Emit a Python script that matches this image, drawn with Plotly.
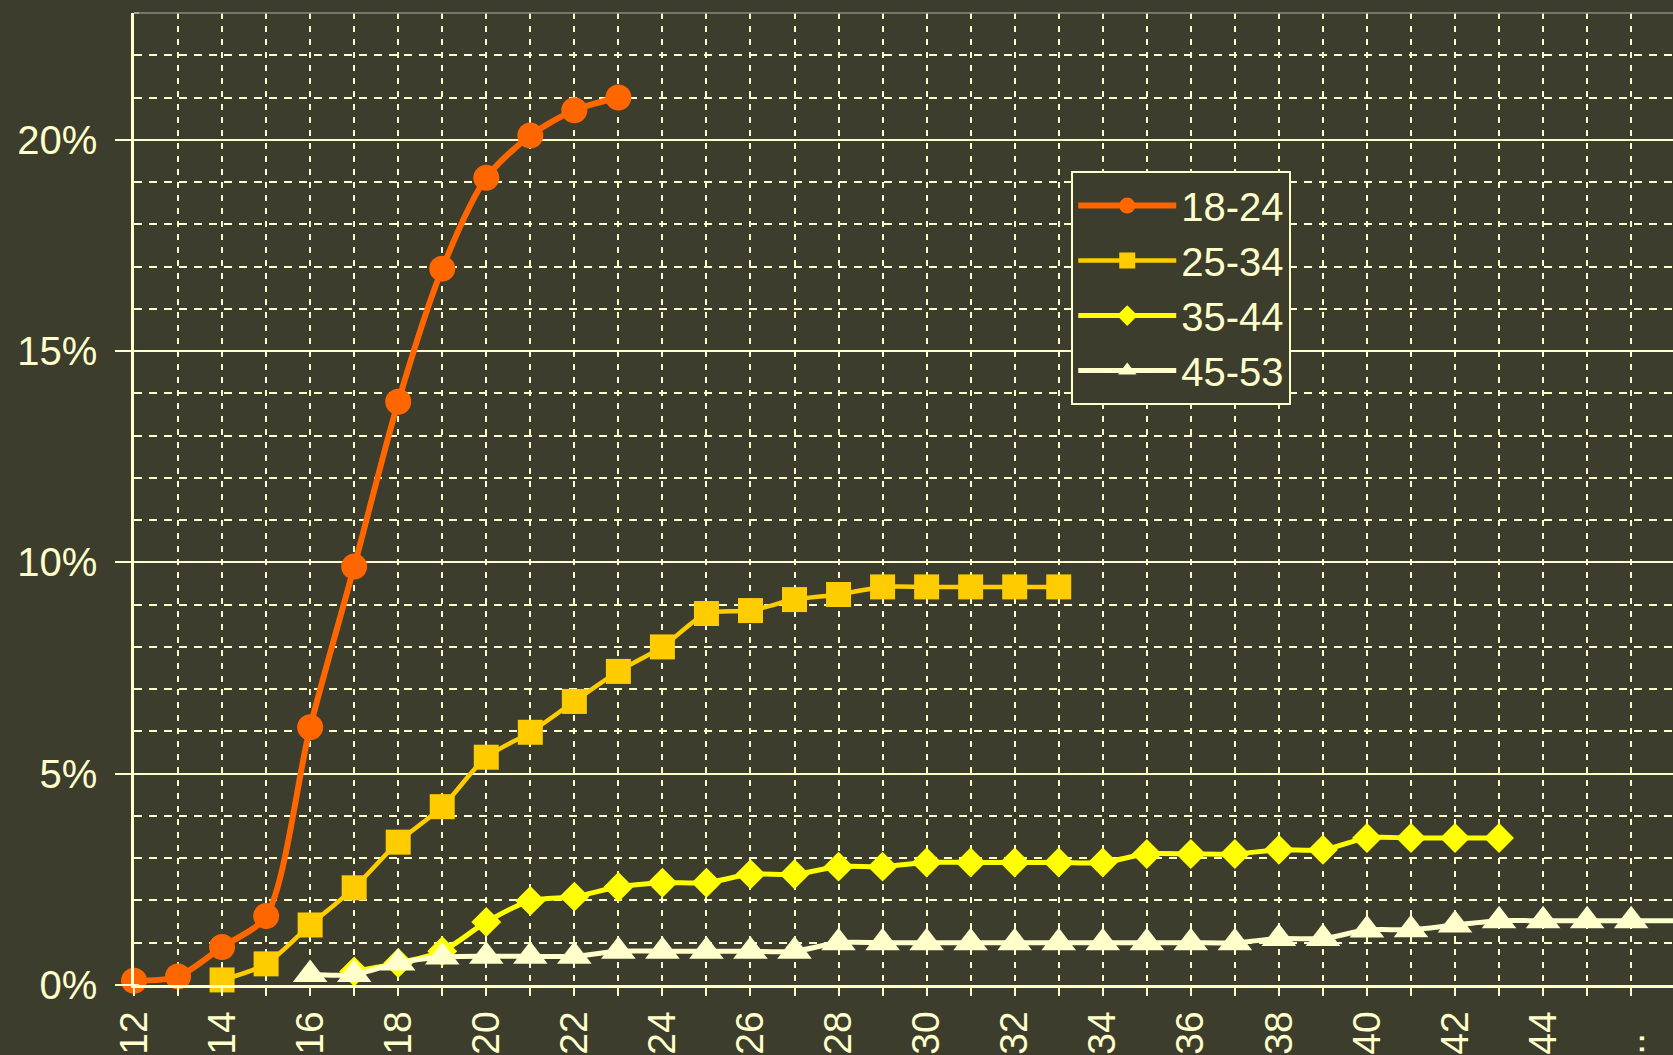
import plotly.graph_objects as go

# ---------------- data ----------------
series_names = ["18-24", "25-34", "35-44", "45-53"]

x_1824 = [12, 13, 14, 15, 16, 17, 18, 19, 20, 21, 22, 23]
y_1824 = [0.1, 0.2, 0.9, 1.63, 6.1, 9.9, 13.8, 16.95, 19.1, 20.1, 20.7, 21.0]

x_2534 = [14, 15, 16, 17, 18, 19, 20, 21, 22, 23, 24, 25, 26, 27, 28, 29, 30, 31, 32, 33]
y_2534 = [0.12, 0.5, 1.42, 2.3, 3.38, 4.22, 5.39, 5.98, 6.71, 7.42, 8.0, 8.79, 8.86, 9.12,
          9.24, 9.42, 9.42, 9.42, 9.42, 9.42]

x_3544 = [17, 18, 19, 20, 21, 22, 23, 24, 25, 26, 27, 28, 29, 30, 31, 32, 33, 34, 35, 36,
          37, 38, 39, 40, 41, 42, 43]
y_3544 = [0.32, 0.52, 0.8, 1.49, 1.99, 2.09, 2.32, 2.42, 2.42, 2.62, 2.62, 2.8, 2.8, 2.9,
          2.9, 2.9, 2.9, 2.9, 3.1, 3.1, 3.1, 3.2, 3.2, 3.48, 3.48, 3.48, 3.48]

x_4553 = [16, 17, 18, 19, 20, 21, 22, 23, 24, 25, 26, 27, 28, 29, 30, 31, 32, 33, 34, 35,
          36, 37, 38, 39, 40, 41, 42, 43, 44, 45, 46, 47]
y_4553 = [0.25, 0.25, 0.52, 0.66, 0.68, 0.68, 0.68, 0.8, 0.8, 0.8, 0.8, 0.8, 1.0, 1.0, 1.0,
          1.0, 1.0, 1.0, 1.0, 1.0, 1.0, 1.0, 1.1, 1.1, 1.3, 1.31, 1.42, 1.52, 1.52, 1.52,
          1.52, 1.52]

x_tick_vals = [12, 13, 14, 15, 16, 17, 18, 19, 20, 21, 22, 23, 24, 25, 26, 27, 28, 29, 30,
               31, 32, 33, 34, 35, 36, 37, 38, 39, 40, 41, 42, 43, 44, 45, 46, 47]
x_tick_text = ["12", "", "14", "", "16", "", "18", "", "20", "", "22", "", "24", "", "26", "",
               "28", "", "30", "", "32", "", "34", "", "36", "", "38", "", "40", "", "42", "",
               "44", "", "..\u00a0\u00a0", ""]

y_tick_vals = [0, 5, 10, 15, 20]
y_tick_text = ["0%", "5%", "10%", "15%", "20%"]

# ---------------- styles ----------------
BG = "#3c3d2c"
CREAM = "#ffffcc"
FONT = "Arial, Liberation Sans, sans-serif"

styles = [
    dict(color="#ff6600", symbol="circle", size=26, width=6),
    dict(color="#ffcc00", symbol="square", size=25, width=4.5),
    dict(color="#ffff00", symbol="diamond", size=23, width=5),
    dict(color="#ffffcc", symbol="triangle-up", size=30, width=5),
]
xs = [x_1824, x_2534, x_3544, x_4553]
ys = [y_1824, y_2534, y_3544, y_4553]

fig = go.Figure()
for name, x, y, st in zip(series_names, xs, ys, styles):
    fig.add_trace(go.Scatter(
        x=x, y=y, name=name, mode="lines+markers",
        line=dict(color=st["color"], width=st["width"], shape="spline", smoothing=0.8),
        marker=dict(color=st["color"], symbol=st["symbol"], size=st["size"],
                    line=dict(width=0)),
        cliponaxis=False,
    ))

fig.update_layout(
    width=1673, height=1055,
    margin=dict(l=134, r=0, t=13, b=70, autoexpand=False),
    paper_bgcolor=BG, plot_bgcolor=BG,
    font=dict(family=FONT, color=CREAM, size=40),
    showlegend=True,
    legend=dict(
        x=0.609, y=0.8374, xanchor="left", yanchor="top",
        bgcolor=BG, bordercolor=CREAM, borderwidth=2,
        font=dict(family=FONT, size=40, color=CREAM),
        itemwidth=98, tracegroupgap=0,
    ),
)

fig.update_xaxes(
    range=[12, 46.95], automargin=False,
    tickmode="array", tickvals=x_tick_vals, ticktext=x_tick_text,
    tickangle=-90, tickfont=dict(size=39, color=CREAM, family=FONT),
    ticks="outside", ticklen=8, tickwidth=2, tickcolor=CREAM,
    ticklabelstandoff=0,
    showline=True, linecolor=CREAM, linewidth=2.5,
    showgrid=True, gridcolor=CREAM, gridwidth=2, griddash="6px,7px",
    zeroline=False,
)

fig.update_yaxes(
    range=[0, 23], automargin=False,
    tickmode="array", tickvals=y_tick_vals, ticktext=y_tick_text,
    tickfont=dict(size=40, color=CREAM, family=FONT),
    ticks="outside", ticklen=16, tickwidth=2, tickcolor=CREAM,
    ticklabelstandoff=10,
    showline=True, linecolor=CREAM, linewidth=2.5,
    showgrid=True, gridcolor=CREAM, gridwidth=2,
    zeroline=False,
    minor=dict(dtick=1, tick0=0, ticks="inside", ticklen=5, tickwidth=2,
               tickcolor=CREAM, showgrid=True, gridcolor=CREAM, gridwidth=2,
               griddash="8px,7px"),
)

fig.add_shape(type="line", xref="paper", yref="paper", x0=0, x1=1, y0=1, y1=1,
              line=dict(color="#8a8a80", width=1.5))

fig.write_html("out.html", config={"displayModeBar": False},
               post_script="document.body.style.margin='0';document.body.style.overflow='hidden';")
